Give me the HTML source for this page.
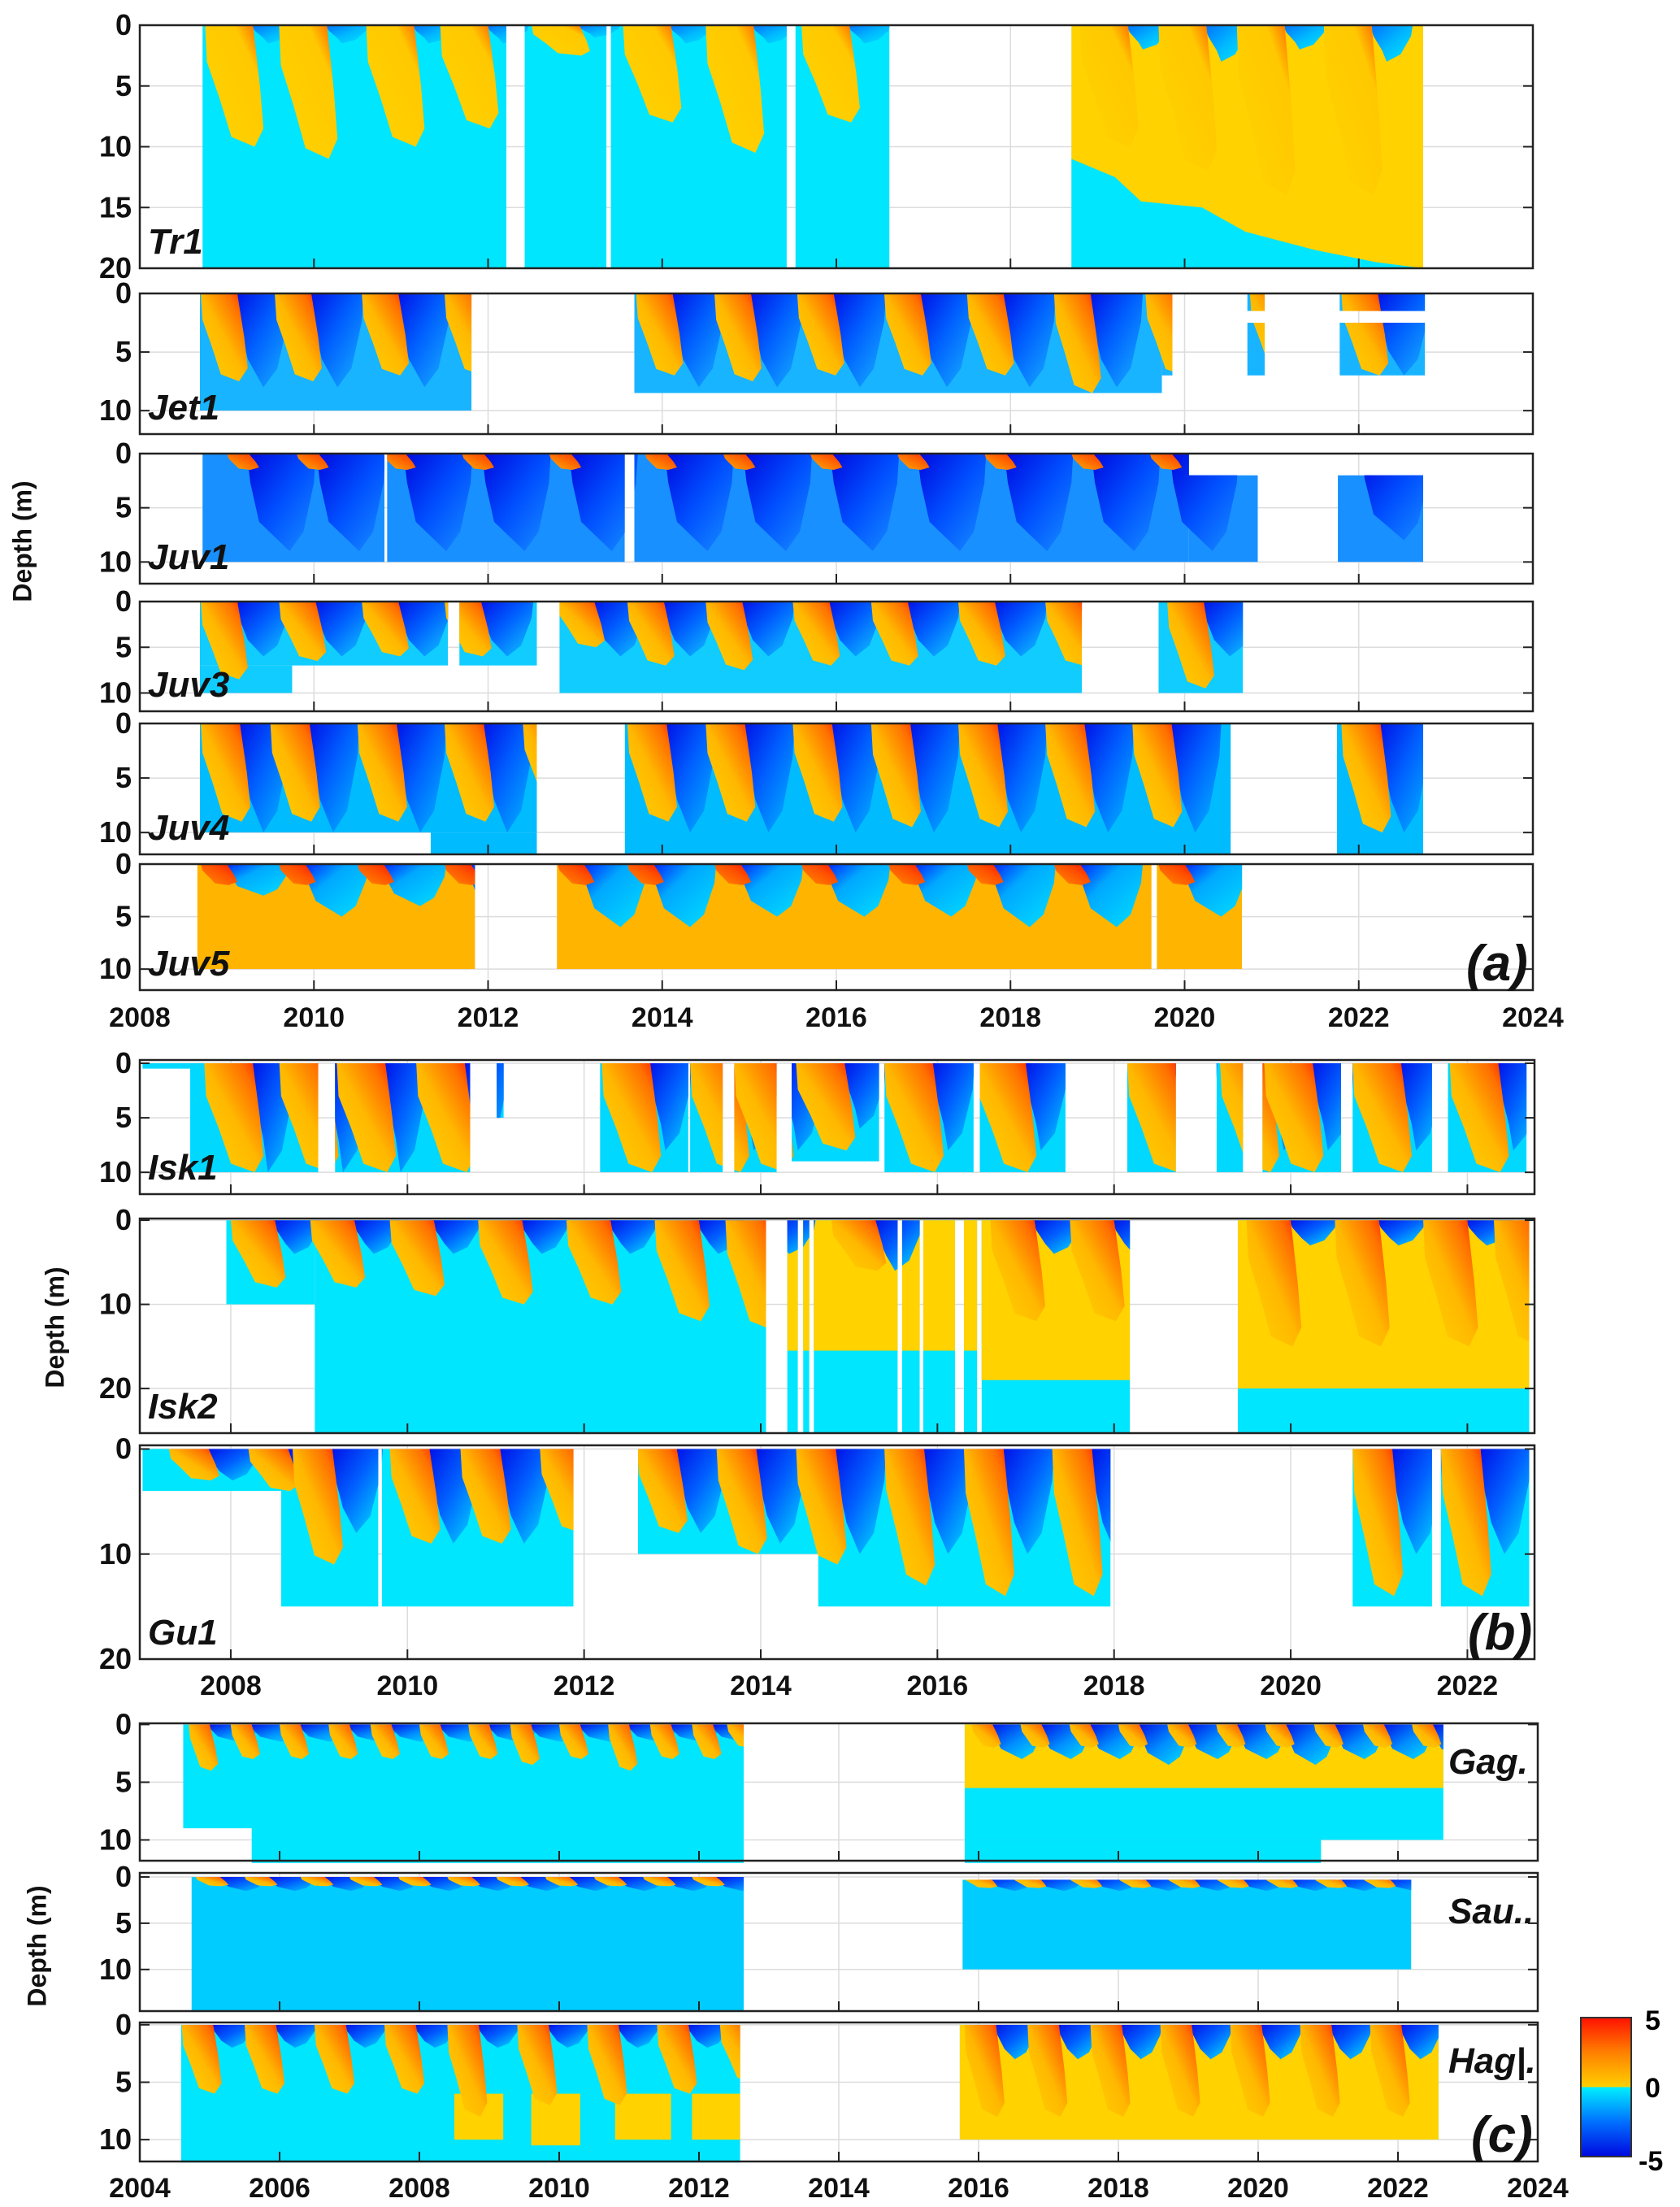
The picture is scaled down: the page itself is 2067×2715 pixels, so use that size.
<!DOCTYPE html>
<html><head><meta charset="utf-8">
<style>
html,body{margin:0;padding:0;background:#fff;}
svg{display:block;font-family:"Liberation Sans Narrow","Liberation Sans",sans-serif;}
</style></head>
<body>
<svg id="fig" xmlns="http://www.w3.org/2000/svg" width="2067" height="2715" viewBox="0 0 2067 2715">
<defs id="defs"></defs>
<g id="root"></g>
<g>
  <defs><linearGradient id="cbg" x1="0" y1="1" x2="0" y2="0">
    <stop offset="0" stop-color="#0008e0"/><stop offset="0.25" stop-color="#0070ff"/><stop offset="0.5" stop-color="#00f0ff"/>
    <stop offset="0.5" stop-color="#ffd000"/><stop offset="0.75" stop-color="#ff8000"/><stop offset="1" stop-color="#ff1000"/></linearGradient></defs>
  <rect x="1945" y="2482" width="62" height="171" fill="url(#cbg)" stroke="#333" stroke-width="2"/>
  <text x="2024" y="2497" font-size="34" font-weight="bold">5</text>
  <text x="2024" y="2580" font-size="34" font-weight="bold">0</text>
  <text x="2016" y="2670" font-size="34" font-weight="bold">-5</text>
</g>
</svg>
<script>
// ---------- data ----------
const tr1Segs=[[2008.72,2012.21,0,20],[2012.42,2013.36,0,20],[2013.41,2015.43,0,20],[2015.53,2016.61,0,20],[2018.70,2022.74,0,20]];
const tr1Plumes=[[2008.75,10,1.5],[2009.6,11,1.5],[2010.6,10,1.5],[2011.45,8.5,1.5],[2012.5,2.5,1],[2013.55,8,1.5],[2014.5,10.5,1.5],[2015.6,8,1.5],[2018.8,10,2],[2019.7,12,3],[2020.6,14,2],[2021.6,14,3]];
const tr1Bound=[[2018.7,11],[2019.2,12.5],[2019.5,14.5],[2020.2,15],[2020.7,17],[2021.5,18.5],[2022.2,19.5],[2022.74,20]];

const jet1Segs=[[2008.69,2011.81,0,10],[2013.68,2019.74,0,8.5],[2019.74,2019.86,0,7],[2020.72,2020.92,0,1.5],[2020.72,2020.92,2.5,7],[2021.78,2022.76,0,1.5],[2021.78,2022.76,2.5,7]];
const jet1Plumes=[[2008.7,7.5,8],[2009.55,7.5,8],[2010.55,7,8],[2011.5,7,8],[2013.7,7,8],[2014.6,7.5,8],[2015.55,7,8],[2016.55,7,8],[2017.5,7,8],[2018.5,8.5,8],[2019.55,7,7],[2020.75,7,7],[2021.8,7,7]];

const juv1Segs=[[2008.72,2010.81,0,10],[2010.84,2013.57,0,10],[2013.68,2020.05,0,10],[2020.05,2020.84,2,10],[2021.76,2022.74,2,10]];
const juv1Plumes=[[2009.0,1.5,9],[2009.8,1.5,9],[2010.8,1.5,9],[2011.7,1.5,9],[2012.7,1.5,9],[2013.8,1.5,9],[2014.7,1.5,9],[2015.7,1.5,9],[2016.7,1.5,9],[2017.7,1.5,9],[2018.7,1.5,9],[2019.6,1.5,9],[2020.6,1.5,8],[2021.8,1.5,8]];

const juv3Segs=[[2008.69,2011.54,0,7],[2008.69,2009.75,7,10],[2011.67,2012.56,0,7],[2012.82,2018.82,0,10],[2019.70,2020.67,0,10]];
const juv3Plumes=[[2008.7,8.5,6],[2009.6,6.5,6],[2010.55,6,6],[2011.5,6,6],[2012.8,5,6],[2013.6,7,6],[2014.5,7.5,6],[2015.5,7,6],[2016.4,7,6],[2017.4,7,6],[2018.4,7,6],[2019.8,9.5,6]];

const juv4Segs=[[2008.69,2012.56,0,10],[2011.34,2012.56,10,12],[2013.57,2020.53,0,12],[2021.75,2022.74,0,12]];
const juv4Plumes=[[2008.7,9,10],[2009.5,9,10],[2010.5,9,10],[2011.5,9,10],[2012.4,8,10],[2013.6,9,10],[2014.5,9,10],[2015.5,9,10],[2016.4,9.5,10],[2017.4,9.5,10],[2018.4,9.5,10],[2019.4,9.5,10],[2021.8,10,10]];

const juv5Segs=[[2008.66,2011.85,0,10],[2012.79,2019.62,0,10],[2019.68,2020.66,0,10]];
const juv5Plumes=[[2008.7,2,3],[2009.6,2,5],[2010.5,2,4],[2011.5,2,6],[2012.8,2,6],[2013.6,2,6],[2014.6,2,5],[2015.6,2,5],[2016.6,2,5],[2017.5,2,6],[2018.5,2,6],[2019.7,2,5]];

const isk1Segs=[[2007.0,2007.7,0,0.5],[2007.54,2008.99,0,10],[2009.18,2010.71,0,10],[2011.01,2011.09,0,5],[2012.18,2013.18,0,10],[2013.2,2013.57,0,10],[2013.7,2014.18,0,10],[2014.35,2015.34,0,9],[2015.4,2016.41,0,10],[2016.48,2017.45,0,10],[2018.15,2018.7,0,10],[2019.16,2019.46,0,10],[2019.68,2020.57,0,10],[2020.7,2021.6,0,10],[2021.78,2022.67,0,10]];
const isk1Plumes=[[2007.7,10,10],[2008.55,10,10],[2009.2,10,10],[2010.1,10,10],[2012.2,10,8],[2013.2,10,8],[2013.7,10,8],[2014.4,8,6],[2015.4,10,8],[2016.45,10,8],[2018.15,10,8],[2019.2,10,8],[2019.7,10,8],[2020.7,10,8],[2021.8,10,8]];

const isk2Segs=[[2007.95,2008.95,0,10],[2008.95,2014.06,0,25.3],[2014.3,2014.42,0,25.3],[2014.48,2014.55,0,25.3],[2014.6,2015.55,0,25.3],[2015.6,2015.8,0,25.3],[2015.84,2016.2,0,25.3],[2016.3,2016.45,0,25.3],[2016.5,2018.18,0,25.3],[2019.4,2022.7,0,25.3]];
const isk2Yellow=[[2014.3,2016.45,0,15.5],[2016.5,2018.18,0,19],[2019.4,2022.7,0,20]];
const isk2Plumes=[[2008.0,8,4],[2008.9,8,4],[2009.8,9,4],[2010.8,10,4],[2011.8,10,4],[2012.8,12,4],[2013.6,13,4],[2014.8,6,6],[2016.6,12,4],[2017.5,12,4],[2019.5,15,3],[2020.5,15,3],[2021.5,15,3],[2022.3,15,3]];

const gu1Segs=[[2007.0,2008.57,0,4],[2008.57,2009.67,0,15],[2009.71,2011.88,0,15],[2012.61,2014.65,0,10],[2014.65,2017.96,0,15],[2020.7,2021.6,0,15],[2021.7,2022.7,0,15]];
const gu1Plumes=[[2007.3,3,3],[2008.2,4,4],[2008.7,11,8],[2009.8,9,9],[2010.6,9,9],[2011.5,8,8],[2012.6,8,8],[2013.5,10,9],[2014.4,11,10],[2015.4,13,10],[2016.3,14,10],[2017.3,14,10],[2020.7,14,10],[2021.7,14,10]];

const gagSegs=[[2004.62,2012.64,0,9],[2005.6,2012.64,0,12],[2015.8,2022.65,0,10],[2015.8,2020.9,10,12]];
const gagYellow=[[2015.8,2022.65,0,5.5]];
const gagPlumes=[[2004.7,4,1.5],[2005.3,3,1.5],[2006.0,3,1.5],[2006.7,3,1.5],[2007.3,3,1.5],[2008.0,3,1.5],[2008.7,3,1.5],[2009.3,3.5,1.5],[2010.0,3,1.5],[2010.7,4,1.5],[2011.3,3,1.5],[2011.9,3,1.5],[2012.4,2,1.5],[2015.9,2,3],[2016.6,2,3],[2017.3,2,3],[2018.0,2,3.5],[2018.7,2,3],[2019.4,2,3],[2020.1,2,3.5],[2020.8,2,3],[2021.5,2,3],[2022.2,2,3]];

const sauSegs=[[2004.74,2012.64,0,14.5],[2015.77,2022.19,0.3,10]];
const sauPlumes=[[2004.8,1,1.5],[2005.5,1,1.5],[2006.3,1,1.5],[2007.0,1,1.5],[2007.7,1,1.5],[2008.4,1,1.5],[2009.1,1,1.5],[2009.8,1,1.5],[2010.5,1,1.5],[2011.2,1,1.5],[2011.9,1,1.5],[2015.8,1.2,1.5],[2016.5,1.2,1.5],[2017.3,1.2,1.5],[2018.0,1.2,1.5],[2018.7,1.2,1.5],[2019.4,1.2,1.5],[2020.1,1.2,1.5],[2020.8,1.2,1.5],[2021.5,1.2,1.5]];

const hagSegs=[[2004.59,2012.59,0,12],[2015.73,2022.58,0,10]];
const hagYellow=[[2015.73,2022.58,0,10],[2008.5,2009.2,6,10],[2009.6,2010.3,6,10.5],[2010.8,2011.6,6,10],[2011.9,2012.59,6,10]];
const hagPlumes=[[2004.6,6,2],[2005.5,6,2],[2006.5,6,2],[2007.5,6,2],[2008.4,8,2],[2009.4,7,2],[2010.4,7,2],[2011.4,6,2],[2012.3,5,2],[2015.8,8,3],[2016.7,8,3],[2017.6,8,3],[2018.6,8,3],[2019.6,8,3],[2020.6,8,3],[2021.6,8,3]];

const yearsA=[2008,2010,2012,2014,2016,2018,2020,2022,2024];
const yearsB=[2008,2010,2012,2014,2016,2018,2020,2022];
const yearsC=[2004,2006,2008,2010,2012,2014,2016,2018,2020,2022,2024];

// ---------- styles ----------
const CY='#00e6ff', YL='#ffd200';
const WARM=[['#ffd400',0],['#ffb800',0.5],['#ff7000',0.8],['#ff1400',1]];
const COLD=[['#0010e8',0],['#0060ff',0.45]];
const panels=[
 {id:'tr1',label:'Tr1',x0:172,x1:1886,xmin:2008,xmax:2024,top:31,bot:330,dmin:0,dmax:20,ticks:[0,5,10,15,20],segs:tr1Segs,plumes:tr1Plumes,base:CY,ww:0.55,
  warm:[['#ffd400',0],['#ffc800',0.75],['#ff5000',1]],cold:[['#0070ff',0],['#00b8ff',0.5]],years:yearsA,lab:'left'},
 {id:'jet1',label:'Jet1',x0:172,x1:1886,xmin:2008,xmax:2024,top:361,bot:534,dmin:0,dmax:12,ticks:[0,5,10],segs:jet1Segs,plumes:jet1Plumes,base:'#18b4ff',ww:0.42,warm:WARM,cold:COLD,years:yearsA,lab:'left'},
 {id:'juv1',label:'Juv1',x0:172,x1:1886,xmin:2008,xmax:2024,top:558,bot:718,dmin:0,dmax:12,ticks:[0,5,10],segs:juv1Segs,plumes:juv1Plumes,base:'#1890ff',ww:0.25,warm:[['#ffb000',0],['#ff3000',1]],cold:[['#0008e0',0],['#0050ff',0.5]],years:yearsA,lab:'left'},
 {id:'juv3',label:'Juv3',x0:172,x1:1886,xmin:2008,xmax:2024,top:740,bot:875,dmin:0,dmax:12,ticks:[0,5,10],segs:juv3Segs,plumes:juv3Plumes,base:'#10ccff',ww:0.42,warm:WARM,cold:COLD,years:yearsA,lab:'left'},
 {id:'juv4',label:'Juv4',x0:172,x1:1886,xmin:2008,xmax:2024,top:890,bot:1051,dmin:0,dmax:12,ticks:[0,5,10],segs:juv4Segs,plumes:juv4Plumes,base:'#00bcff',ww:0.45,warm:WARM,cold:COLD,years:yearsA,lab:'left'},
 {id:'juv5',label:'Juv5',x0:172,x1:1886,xmin:2008,xmax:2024,top:1063,bot:1218,dmin:0,dmax:12,ticks:[0,5,10],segs:juv5Segs,plumes:juv5Plumes,base:'#ffb400',ww:0.3,
  warm:[['#ff9000',0],['#ff5000',0.6],['#ff1000',1]],cold:[['#0020ff',0],['#00a8ff',0.35],['#00e0ff',1]],years:yearsA,lab:'left',tag:'(a)',xlab:1251},
 {id:'isk1',label:'Isk1',x0:172,x1:1888,xmin:2006.97,xmax:2022.76,top:1304,bot:1469,dmin:-0.3,dmax:12,ticks:[0,5,10],segs:isk1Segs,plumes:isk1Plumes,base:'#00d8ff',ww:0.55,warm:WARM,cold:COLD,years:yearsB,lab:'left'},
 {id:'isk2',label:'Isk2',x0:172,x1:1888,xmin:2006.97,xmax:2022.76,top:1499,bot:1763,dmin:-0.2,dmax:25.3,ticks:[0,10,20],segs:isk2Segs,plumes:isk2Plumes,base:CY,extra:isk2Yellow,ww:0.5,warm:WARM,cold:COLD,years:yearsB,lab:'left'},
 {id:'gu1',label:'Gu1',x0:172,x1:1888,xmin:2006.97,xmax:2022.76,top:1778,bot:2041,dmin:-0.35,dmax:20,ticks:[0,10,20],segs:gu1Segs,plumes:gu1Plumes,base:CY,ww:0.45,warm:WARM,cold:COLD,years:yearsB,lab:'left',tag:'(b)',xlab:2073},
 {id:'gag',label:'Gag.',x0:172,x1:1892,xmin:2004,xmax:2024,top:2120,bot:2289,dmin:-0.1,dmax:11.8,ticks:[0,5,10],segs:gagSegs,plumes:gagPlumes,base:CY,extra:gagYellow,ww:0.3,warm:WARM,cold:[['#0010e8',0],['#0090ff',0.5]],years:yearsC,lab:'right'},
 {id:'sau',label:'Sau..',x0:172,x1:1892,xmin:2004,xmax:2024,top:2304,bot:2474,dmin:-0.44,dmax:14.5,ticks:[0,5,10],segs:sauSegs,plumes:sauPlumes,base:'#00ccff',ww:0.35,warm:WARM,cold:COLD,years:yearsC,lab:'right'},
 {id:'hag',label:'Hag|.',x0:172,x1:1892,xmin:2004,xmax:2024,top:2488,bot:2659,dmin:-0.2,dmax:11.9,ticks:[0,5,10],segs:hagSegs,plumes:hagPlumes,base:CY,extra:hagYellow,ww:0.45,warm:WARM,cold:COLD,years:yearsC,lab:'right',tag:'(c)',xlab:2691}
];

// ---------- drawing ----------
const NS='http://www.w3.org/2000/svg';
const root=document.getElementById('root');
const defs=document.getElementById('defs');
function mk(tag,attrs,parent){const e=document.createElementNS(NS,tag);for(const k in attrs)e.setAttribute(k,attrs[k]);(parent||root).appendChild(e);return e;}
function grad(id,stops,base,dir){
  const g=mk('linearGradient',Object.assign({id:id},dir),defs);
  stops.forEach(s=>mk('stop',{offset:s[1],'stop-color':s[0]},g));
  if(base&&stops[stops.length-1][1]<1)mk('stop',{offset:1,'stop-color':base},g);
}
panels.forEach(p=>{
  const X=y=>p.x0+(y-p.xmin)/(p.xmax-p.xmin)*(p.x1-p.x0);
  const Y=d=>p.top+(d-p.dmin)/(p.dmax-p.dmin)*(p.bot-p.top);
  const g=mk('g',{});
  
  
  // grid
  p.years.forEach(yr=>{const x=X(yr);if(x>p.x0+2&&x<p.x1-2)mk('line',{x1:x,y1:p.top,x2:x,y2:p.bot,stroke:'#dcdcdc','stroke-width':1.5},g);});
  p.ticks.forEach(t=>{const y=Y(t);if(y>p.top+2&&y<p.bot-2)mk('line',{x1:p.x0,y1:y,x2:p.x1,y2:y,stroke:'#dcdcdc','stroke-width':1.5},g);});
  // clip
  const cp=mk('clipPath',{id:'clip-'+p.id},defs);
  p.segs.forEach(s=>mk('rect',{x:X(s[0]),y:Y(s[2]),width:X(s[1])-X(s[0]),height:Y(s[3])-Y(s[2])},cp));
  grad('w-'+p.id,p.warm,null,{x1:0,y1:1,x2:1,y2:0});
  grad('c-'+p.id,p.cold,p.base,{x1:0,y1:0,x2:1,y2:1});
  const dg=mk('g',{'clip-path':'url(#clip-'+p.id+')'},g);
  
  
  p.segs.forEach(s=>{const r=mk('rect',{x:X(s[0]),y:Y(s[2]),width:X(s[1])-X(s[0]),height:Y(s[3])-Y(s[2]),fill:p.base},dg);
    
    });
  if(p.id==='tr1'){
    const s=tr1Segs[4];
    mk('rect',{x:X(s[0]),y:Y(0),width:X(s[1])-X(s[0]),height:Y(20)-Y(0),fill:YL},dg);
    const pts=[[s[0],20]].concat(tr1Bound).concat([[s[1],20.5],[s[0],20.5]]);
    mk('polygon',{points:pts.map(q=>X(q[0])+','+Y(q[1])).join(' '),fill:CY},dg);
  }
  (p.extra||[]).forEach(e=>mk('rect',{x:X(e[0]),y:Y(e[2]),width:X(e[1])-X(e[0]),height:Y(e[3])-Y(e[2]),fill:YL},dg));
  p.plumes.forEach(q=>{
    const t=q[0],w=q[1],c=q[2],ww=p.ww;
    const cold=[[t+ww-0.02,0],[t+1.02,0],[t+1.0,0.3*c],[t+0.88,0.8*c],[t+0.72,c],[t+ww+0.12,0.7*c],[t+ww+0.02,0.3*c]];
    const cp2=mk('polygon',{points:cold.map(a=>X(a[0])+','+Y(a[1])).join(' '),fill:'url(#c-'+p.id+')'},dg);
    
    
    const warm=[[t,0],[t+ww,0],[t+ww+0.08,0.5*w],[t+ww+0.12,0.85*w],[t+ww+0.02,w],[t+ww*0.55,0.92*w],[t+ww*0.3,0.6*w],[t+0.02,0.3*w]];
    const wp=mk('polygon',{points:warm.map(a=>X(a[0])+','+Y(a[1])).join(' '),fill:'url(#w-'+p.id+')'},dg);
    
    
  });
  // frame
  mk('rect',{x:p.x0,y:p.top,width:p.x1-p.x0,height:p.bot-p.top,fill:'none',stroke:'#222','stroke-width':2.5},g);
  // y ticks
  p.ticks.forEach(t=>{const y=Y(t);
    mk('line',{x1:p.x0,y1:y,x2:p.x0+12,y2:y,stroke:'#222','stroke-width':2},g);
    mk('line',{x1:p.x1-12,y1:y,x2:p.x1,y2:y,stroke:'#222','stroke-width':2},g);
    const tx=mk('text',{x:p.x0-10,y:y+12,'text-anchor':'end','font-size':36,'font-weight':'bold',fill:'#111'},g);
    tx.textContent=t;
    
    });
  p.years.forEach(yr=>{const x=X(yr);if(x<p.x0-1||x>p.x1+1)return;
    mk('line',{x1:x,y1:p.bot,x2:x,y2:p.bot-12,stroke:'#222','stroke-width':2},g);});
  // label
  const lx=p.lab==='left'?p.x0+10:p.x1-110;
  const ly=p.lab==='left'?p.bot-18:p.top+62;
  const lt=mk('text',{x:lx,y:ly,'font-size':44,'font-weight':'bold','font-style':'italic',fill:'#111'},g);
  lt.textContent=p.label;
  
  
  if(p.tag){
    const tg=mk('text',{x:p.x1-82,y:p.bot-12,'font-size':62,'font-weight':'bold','font-style':'italic',fill:'#111'},g);
    tg.textContent=p.tag;
    
    
    p.years.forEach(yr=>{const x=X(yr);
      const yt=mk('text',{x:x,y:p.xlab+12,'text-anchor':'middle','font-size':34,'font-weight':'bold',fill:'#111'},g);
      yt.textContent=yr;
      
      });
  }
});
// axis titles
[[30,666],[70,1633],[48,2394]].forEach(a=>{
  const t=mk('text',{x:a[0],y:a[1],transform:'rotate(-90 '+a[0]+' '+a[1]+')','text-anchor':'middle','dominant-baseline':'middle','font-size':32,'font-weight':'bold',fill:'#111'});
  t.textContent='Depth (m)';
  
  
});
</script>
</body></html>
